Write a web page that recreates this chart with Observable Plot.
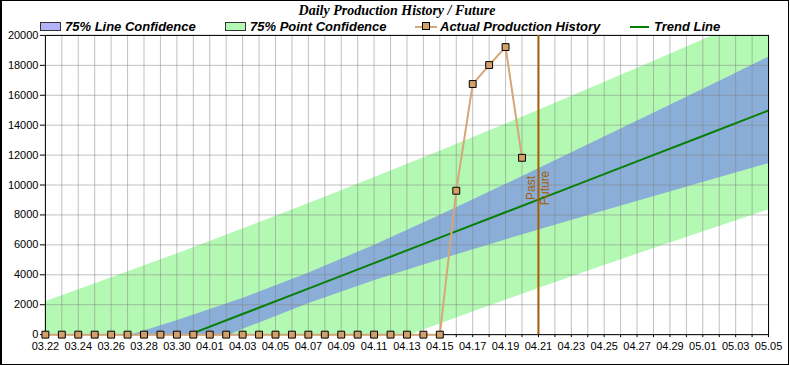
<!DOCTYPE html>
<html>
<head>
<meta charset="utf-8">
<script src="https://cdn.jsdelivr.net/npm/d3@7"></script>
<script src="https://cdn.jsdelivr.net/npm/@observablehq/plot@0.6"></script>
<style>
  body { margin: 0; background: #fff; }
  #wrap { position: relative; width: 789px; height: 365px; box-sizing: border-box;
          border: 1px solid #000; border-left-width: 2px; background: #fff; overflow: hidden; }
  #chart { position: absolute; left: -2px; top: -1px; }
  #title { position: absolute; left: 0; width: 790px; top: 1px; text-align: center;
           font: italic bold 14px "Liberation Serif", "Times New Roman", serif; line-height: 17px; }
  .lg { position: absolute; top: 16.5px; font: italic bold 13px "Liberation Sans", Arial, sans-serif;
        line-height: 17px; white-space: nowrap; }
  .sw { position: absolute; top: 20.5px; width: 19px; height: 7px; border: 1px solid #333; }
  .ln { position: absolute; height: 2px; top: 24.5px; }
  .mk { position: absolute; width: 6px; height: 6px; border: 1px solid #000; top: 21px; background: #d4a06a; }
</style>
</head>
<body>
<div id="wrap">
  <div id="chart"></div>
  <div id="title"></div>
  <div id="legend"></div>
</div>
<script>
// ---- data ----
const chartTitle = "Daily Production History / Future";
const legendLabels = ["75% Line Confidence", "75% Point Confidence", "Actual Production History", "Trend Line"];
const year = "2023";

const prodDays = ["03.22","03.23","03.24","03.25","03.26","03.27","03.28","03.29","03.30","03.31",
                  "04.01","04.02","04.03","04.04","04.05","04.06","04.07","04.08","04.09","04.10",
                  "04.11","04.12","04.13","04.14","04.15","04.16","04.17","04.18","04.19","04.20"];
const prodValues = [0,0,0,0,0,0,0,0,0,0,
                    0,0,0,0,0,0,0,0,0,0,
                    0,0,0,0,0,9620,16750,18020,19220,11820];

const bandDays = ["03.22","03.26","03.30","04.03","04.07","04.11","04.15","04.19","04.23","04.27","05.01","05.05"];
const trendValues = [-3720,-2020,-320,1380,3080,4780,6480,8180,9880,11580,13280,14980];
const lineUpper  = [-1769,-448,930,2421,4095,5965,7965,10033,12136,14258,16391,18532];
const lineLower  = [-5671,-3592,-1570,339,2065,3595,4995,6327,7624,8902,10169,11428];
const pointUpper = [2198,3780,5398,7055,8750,10484,12256,14065,15909,17786,19692,21625];
const pointLower = [-9638,-7820,-6038,-4295,-2590,-924,704,2295,3851,5374,6868,8335];

const xStart = "03.22", xEnd = "05.05";
const dividerDay = "04.21";
const dividerLabels = ["Past", "Future"];
const dividerLabelY = 9800;
const yTicks = [0,2000,4000,6000,8000,10000,12000,14000,16000,18000,20000];

// ---- build ----
const parse = s => new Date(`${year}-${s.replace(".", "-")}T00:00:00Z`);
const prod = prodDays.map((d, i) => ({date: parse(d), v: prodValues[i]}));
const bands = bandDays.map((d, i) => ({date: parse(d), t: trendValues[i], lu: lineUpper[i], ll: lineLower[i], pu: pointUpper[i], pl: pointLower[i]}));
const x0 = parse(xStart), x1 = parse(xEnd);
const allDays = d3.utcDay.range(x0, d3.utcDay.offset(x1, 1));
const divider = parse(dividerDay);
const fmt = d3.utcFormat("%m.%d");

const C = {
  point: "#b3f9b3", line: "#8aaed8", trend: "#088008", prod: "#d7a677", mk: "#d4a06a", div: "#a65c00",
  grid: "#808080"
};

const plot = Plot.plot({
  width: 790, height: 365,
  marginLeft: 45, marginRight: 20, marginTop: 35, marginBottom: 30,
  style: {fontFamily: '"Liberation Sans", Arial, sans-serif', fontSize: "11px", background: "transparent", overflow: "visible"},
  x: {type: "utc", domain: [x0, x1]},
  y: {domain: [0, 20000]},
  marks: [
    Plot.areaY(bands, {x: "date", y1: "pl", y2: "pu", fill: C.point, clip: true}),
    Plot.areaY(bands, {x: "date", y1: "ll", y2: "lu", fill: C.line, clip: true}),
    Plot.gridX(allDays, {stroke: C.grid, strokeOpacity: 0.5}),
    Plot.gridY(yTicks, {stroke: C.grid, strokeOpacity: 0.5}),
    Plot.axisX(allDays, {tickSize: 3, tickPadding: 5, tickFormat: d => (Math.round((d - x0) / 864e5) % 2 ? "" : fmt(d)), fill: "#000", stroke: "#000"}),
    Plot.axisY(yTicks, {tickSize: 5, tickPadding: 2, tickFormat: d => String(d), fill: "#000", stroke: "#000"}),
    Plot.frame({stroke: "#000"}),
    Plot.lineY(bands, {x: "date", y: "t", stroke: C.trend, strokeWidth: 2, clip: true}),
    Plot.ruleX([divider], {stroke: C.div, strokeWidth: 2}),
    Plot.text([dividerLabels[0]], {x: () => divider, y: () => dividerLabelY, text: d => d, rotate: -90, dx: -7, fill: C.div, fontSize: 12}),
    Plot.text([dividerLabels[1]], {x: () => divider, y: () => dividerLabelY, text: d => d, rotate: -90, dx: 7, fill: C.div, fontSize: 12}),
    Plot.lineY(prod, {x: "date", y: "v", stroke: C.prod, strokeWidth: 2}),
    Plot.dot(prod, {x: "date", y: "v", symbol: "square", r: 3.9, fill: C.mk, stroke: "#000", strokeWidth: 1})
  ]
});
document.getElementById("chart").appendChild(plot);
document.getElementById("title").textContent = chartTitle;

const lg = document.getElementById("legend");
function add(tag, cls, style, text) {
  const e = document.createElement(tag); e.className = cls;
  Object.assign(e.style, style); if (text) e.textContent = text; lg.appendChild(e); return e;
}
add("div", "sw", {left: "38px", background: "#b3b3f9"});
add("div", "lg", {left: "63px"}, legendLabels[0]);
add("div", "sw", {left: "223px", background: C.point});
add("div", "lg", {left: "248px"}, legendLabels[1]);
add("div", "ln", {left: "413px", width: "22px", background: C.prod});
add("div", "mk", {left: "420px"});
add("div", "lg", {left: "438px"}, legendLabels[2]);
add("div", "ln", {left: "628px", width: "19px", background: "#008000"});
add("div", "lg", {left: "652px"}, legendLabels[3]);
</script>
</body>
</html>
